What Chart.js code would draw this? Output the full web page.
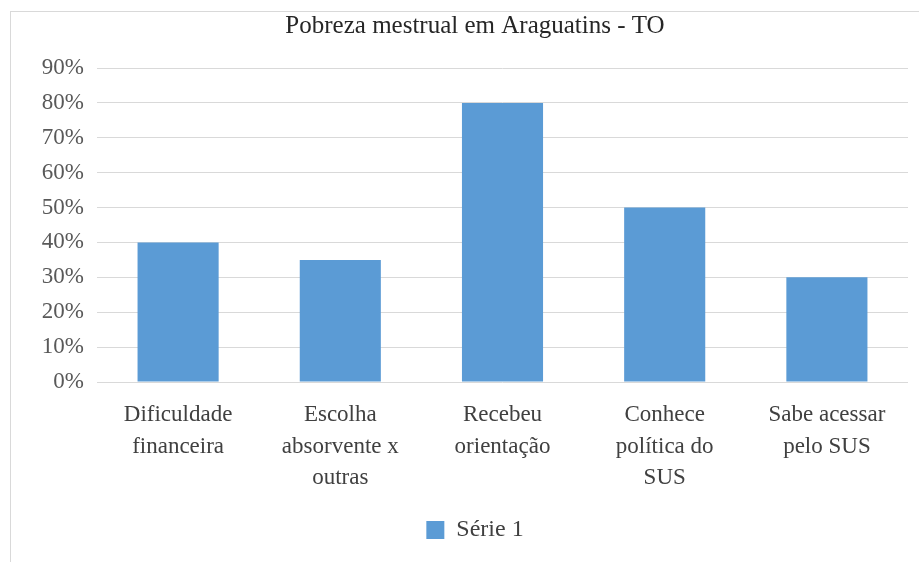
<!DOCTYPE html>
<html>
<head>
<meta charset="utf-8">
<script src="https://cdn.jsdelivr.net/npm/chart.js@4/dist/chart.umd.min.js"></script>
<style>
  html, body { margin: 0; padding: 0; background: #ffffff; }
  #wrap { position: relative; width: 919px; height: 562px; }
  #frame {
    position: absolute; left: 10px; top: 11px; width: 909px; height: 551px;
    border-top: 1px solid #d9d9d9; border-left: 1px solid #d9d9d9; box-sizing: border-box;
  }
  canvas { position: absolute; left: 0; top: 0; }
</style>
</head>
<body>
<div id="wrap">
  <div id="frame"></div>
  <canvas id="chart" width="919" height="562"></canvas>
</div>
<script>
// categories (multi-line labels as in the original)
const categories = [
  ['Dificuldade', 'financeira'],
  ['Escolha', 'absorvente x', 'outras'],
  ['Recebeu', 'orientação'],
  ['Conhece', 'política do', 'SUS'],
  ['Sabe acessar', 'pelo SUS']
];
// series values in percent
const serie1 = [40, 35, 80, 50, 30];
// y axis range
const yMax = 90;
const yStep = 10;

document.addEventListener('DOMContentLoaded', function () {
  const ctx = document.getElementById('chart').getContext('2d');
  new Chart(ctx, {
    type: 'bar',
    data: {
      labels: categories,
      datasets: [
        {
          label: 'Série 1',
          data: serie1,
          backgroundColor: '#5b9bd5',
          borderWidth: 0,
          barPercentage: 0.5,
          categoryPercentage: 1.0
        }
      ]
    },
    options: {
      responsive: false,
      animation: false,
      // left padding shifts the centred title/legend like the original
      layout: { padding: { left: 42, right: 11, top: 0, bottom: 10 } },
      plugins: {
        title: {
          display: true,
          text: 'Pobreza mestrual em Araguatins - TO',
          color: '#262626',
          font: { family: 'Liberation Serif', size: 25, weight: 'normal' },
          padding: { top: 11, bottom: 27 }
        },
        legend: {
          position: 'bottom',
          labels: {
            color: '#404040',
            font: { family: 'Liberation Serif', size: 24 },
            boxWidth: 18,
            boxHeight: 18,
            padding: 10
          }
        },
        tooltip: { enabled: false }
      },
      scales: {
        x: {
          grid: { display: false },
          border: { display: false },
          ticks: {
            color: '#404040',
            font: { family: 'Liberation Serif', size: 23, lineHeight: 1.38 },
            maxRotation: 0,
            autoSkip: false,
            padding: 9
          },
          afterFit: function (scale) { scale.height = 126; }
        },
        y: {
          min: 0,
          max: yMax,
          grid: { color: '#d9d9d9', drawTicks: false },
          border: { display: false },
          ticks: {
            stepSize: yStep,
            color: '#595959',
            font: { family: 'Liberation Serif', size: 23 },
            padding: 13,
            callback: function (value) { return value + '%'; }
          },
          afterFit: function (scale) { scale.width = 55; }
        }
      }
    }
  });
});
</script>
</body>
</html>
